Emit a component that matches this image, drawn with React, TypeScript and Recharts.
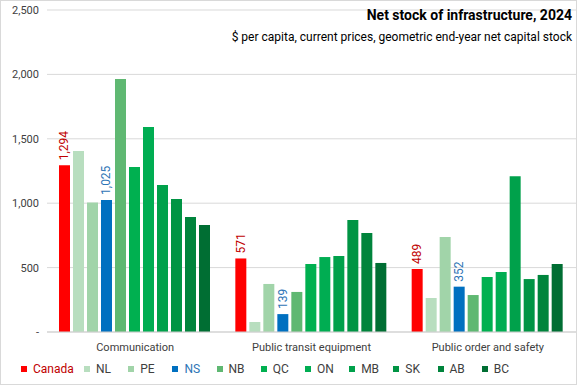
import { BarChart, Bar, XAxis, YAxis, CartesianGrid, Legend, LabelList } from "recharts";

const categories = ["Communication", "Public transit equipment", "Public order and safety"];
const regions = ["Canada", "NL", "PE", "NS", "NB", "QC", "ON", "MB", "SK", "AB", "BC"];

const canada = [1294, 571, 489];
const nl = [1405, 78, 264];
const pe = [1005, 373, 737];
const ns = [1025, 139, 352];
const nb = [1964, 311, 287];
const qc = [1281, 528, 427];
const on = [1592, 582, 466];
const mb = [1141, 590, 1210];
const sk = [1033, 870, 411];
const ab = [893, 769, 443];
const bc = [831, 536, 528];

const yTicks = [0, 500, 1000, 1500, 2000, 2500];

const seriesValues = [canada, nl, pe, ns, nb, qc, on, mb, sk, ab, bc];
const colors = ["#FF0000", "#B8DEBF", "#A1D4A9", "#0070C0", "#5FB872", "#00B050", "#00AD52", "#00A14B", "#009444", "#00843C", "#006E33"];
const labelColors: Record<string, string> = { Canada: "#C00000", NS: "#2E75B6" };

const data = categories.map((c, i) => {
  const row: Record<string, string | number> = { name: c };
  regions.forEach((r, j) => (row[r] = seriesValues[j][i]));
  return row;
});

const font = "Roboto, 'Open Sans', sans-serif";

function VertLabel(props: any) {
  const { x, y, width, value, fill } = props;
  const cx = x + width / 2 + 4;
  const cy = y - 5;
  return (
    <text x={cx} y={cy} transform={`rotate(-90 ${cx} ${cy})`} fill={fill} fontSize={12} fontFamily={font} textAnchor="start">
      {Number(value).toLocaleString("en-US")}
    </text>
  );
}

function LegendBox() {
  return (
    <div style={{ display: "flex", fontFamily: font, fontSize: 12 }}>
      {regions.map((r, i) => (
        <div key={r} style={{ width: r === "Canada" ? 63 : 44.2, display: "flex", alignItems: "center" }}>
          <span style={{ display: "inline-block", width: 6, height: 6, background: colors[i], marginRight: 6 }} />
          <span style={{ color: labelColors[r] ?? "#404040" }}>{r}</span>
        </div>
      ))}
    </div>
  );
}

export default function App() {
  return (
    <div style={{ position: "absolute", left: 0, top: 0, width: 577, height: 385, background: "white", boxSizing: "border-box", border: "1px solid #D9D9D9", overflow: "hidden" }}>
      <BarChart width={575} height={383} data={data} margin={{ top: 9, right: 0, left: 0, bottom: 14 }} barGap={3} barCategoryGap={12}>
        <CartesianGrid vertical={false} stroke="#D9D9D9" />
        <XAxis dataKey="name" tickLine={false} stroke="#D0D0D0" tick={{ fill: "#404040", fontSize: 11, fontFamily: font, dy: 3 }} height={24} />
        <YAxis
          domain={[0, 2500]}
          ticks={yTicks}
          width={46}
          axisLine={false}
          tickLine={false}
          tick={{ fill: "#404040", fontSize: 11, fontFamily: font }}
          tickFormatter={(v: number) => (v === 0 ? "-" : v.toLocaleString("en-US"))}
        />
        <Legend content={() => <LegendBox />} wrapperStyle={{ left: 20, bottom: 8, width: 560 }} />
        {regions.map((r, i) => (
          <Bar key={r} dataKey={r} fill={colors[i]} isAnimationActive={false}>
            {labelColors[r] ? <LabelList dataKey={r} content={(p: any) => <VertLabel {...p} fill={labelColors[r]} />} /> : null}
          </Bar>
        ))}
      </BarChart>
      <div style={{ position: "absolute", right: 4, top: 6, fontFamily: font, fontWeight: 700, fontSize: 14, color: "#000" }}>
        Net stock of infrastructure, 2024
      </div>
      <div style={{ position: "absolute", right: 4, top: 29, fontFamily: font, fontSize: 12, color: "#000" }}>
        $ per capita, current prices, geometric end-year net capital stock
      </div>
    </div>
  );
}
